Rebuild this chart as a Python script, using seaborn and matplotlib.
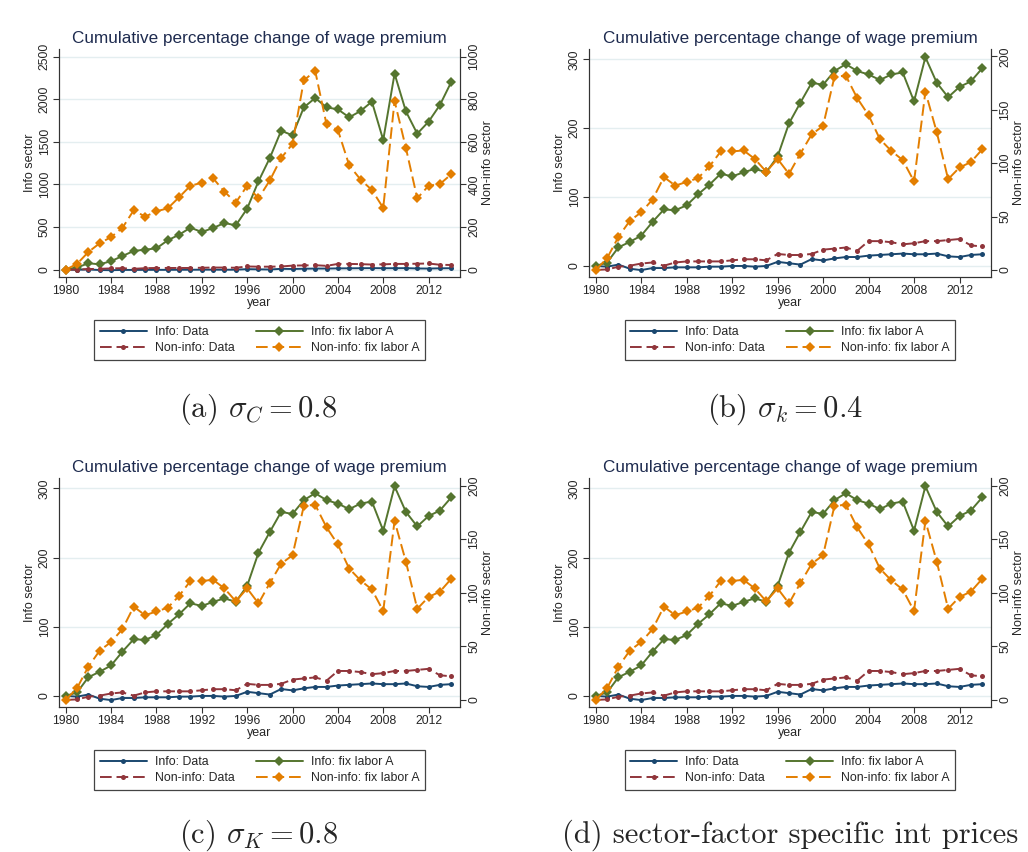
import matplotlib

matplotlib.use("Agg")
import matplotlib.pyplot as plt
import seaborn as sns
from matplotlib.lines import Line2D

# ---- data ----
years = list(range(1980, 2015))

info_data = [0, -1, 2, -4, -6, -3, -3, -2, -2, -2,
             -1, -1, 0, 0, -1, 0, 6, 4, 2, 10,
             8, 11, 13, 13, 15, 16, 17, 18, 17, 17,
             18, 14, 13, 16, 17]
noninfo_data = [0, 0.5, 3, 4, 6, 7, 4, 7, 8, 8,
                8, 8, 9, 10, 10, 9, 15, 14, 14, 15,
                19, 20, 21, 18, 27, 27, 26, 24, 25, 27,
                27, 28, 29, 23, 22]

# panel (a): sigma_C = 0.8
info_fix_a = [0, 25, 75, 63, 100, 160, 220, 235, 250, 345,
              410, 493, 442, 489, 548, 520, 716, 1037, 1311, 1631,
              1577, 1905, 2015, 1905, 1882, 1788, 1862, 1972, 1522, 2300,
              1858, 1596, 1737, 1933, 2203]
noninfo_fix_a = [0, 27, 83, 124, 153, 196, 279, 249, 274, 288,
                 340, 394, 408, 429, 366, 315, 394, 335, 419, 524,
                 590, 889, 933, 682, 656, 490, 423, 374, 290, 792,
                 571, 335, 394, 402, 448]

# panels (b), (c), (d)
info_fix = [0, 5, 27, 35, 44, 64, 82, 81, 88, 104,
            118, 134, 130, 136, 141, 136, 159, 207, 237, 266,
            263, 283, 293, 283, 278, 270, 278, 281, 239, 303,
            266, 245, 260, 268, 287]
noninfo_fix = [0, 11, 31, 46, 54, 66, 87, 79, 82.5, 86,
               97, 111, 111, 112, 104, 92, 104, 90, 109, 127,
               135, 181, 182, 161, 145, 122.5, 111.5, 103, 83, 167,
               129, 85, 96, 101, 113]

left_ticks_a = [0, 500, 1000, 1500, 2000, 2500]
right_ticks_a = [0, 200, 400, 600, 800, 1000]
left_ticks = [0, 100, 200, 300]
right_ticks = [0, 50, 100, 150, 200]
year_ticks = [1980, 1984, 1988, 1992, 1996, 2000, 2004, 2008, 2012]

series_labels = ["Info: Data", "Non-info: Data", "Info: fix labor A", "Non-info: fix labor A"]
captions = [r"(a) $\sigma_C = 0.8$", r"(b) $\sigma_k = 0.4$",
            r"(c) $\sigma_K = 0.8$", "(d) sector-factor specific int prices"]
title = "Cumulative percentage change of wage premium"

NAVY, MAROON, GREEN, ORANGE = "#1a476f", "#90353b", "#55752f", "#e37e00"
DASH = (0, (6, 2.5))

sns.set_style("ticks")
plt.rcParams["font.family"] = ["Liberation Sans", "DejaVu Sans"]
plt.rcParams["mathtext.fontset"] = "cm"

W, H = 1028, 852
fig = plt.figure(figsize=(W / 100, H / 100), dpi=100)


def rect(left, top, right, bottom):
    return [left / W, 1 - bottom / H, (right - left) / W, (bottom - top) / H]


def style_axis(ax):
    ax.tick_params(axis="both", direction="out", length=4, width=0.8, color="#333333",
                   labelsize=8.7, pad=2)
    for s in ax.spines.values():
        s.set_color("#333333")
        s.set_linewidth(0.8)
    ax.spines["top"].set_visible(False)


def draw_panel(box, ifix, nfix, lticks, rticks, llim, rlim, caption, cap_xy):
    ax = fig.add_axes(rect(*box))
    ax2 = ax.twinx()
    mk = dict(markeredgewidth=0, errorbar=None, legend=False)
    sns.lineplot(x=years, y=info_data, ax=ax, color=NAVY, lw=1.4, marker="o",
                 markersize=3.6, markeredgecolor=NAVY, **mk)
    sns.lineplot(x=years, y=ifix, ax=ax, color=GREEN, lw=1.4, marker="D",
                 markersize=4.6, markeredgecolor=GREEN, **mk)
    sns.lineplot(x=years, y=noninfo_data, ax=ax2, color=MAROON, lw=1.4, marker="o",
                 markersize=3.6, markeredgecolor=MAROON, linestyle=DASH, **mk)
    sns.lineplot(x=years, y=nfix, ax=ax2, color=ORANGE, lw=1.4, marker="D",
                 markersize=4.6, markeredgecolor=ORANGE, linestyle=DASH, **mk)

    ax.set_xlim(1979.41, 2014.77)
    ax.set_xticks(year_ticks)
    ax.set_ylim(*llim)
    ax.set_yticks(lticks)
    ax2.set_ylim(*rlim)
    ax2.set_yticks(rticks)
    ax.grid(axis="y", color="#e4eef0", lw=1)
    ax.grid(axis="x", visible=False)
    for a in (ax, ax2):
        style_axis(a)
        a.tick_params(axis="y", labelrotation=90)
    for lab in ax2.get_yticklabels():
        lab.set_va("center")
    for lab in ax.get_yticklabels():
        lab.set_va("center")

    ax.set_xlabel("year", fontsize=9, labelpad=0)
    ax.set_ylabel("Info sector", fontsize=9, labelpad=2)
    ax2.set_ylabel("Non-info sector", fontsize=9, labelpad=1)
    ax.set_title(title, fontsize=12.3, color="#1e2b4f", pad=4)

    handles = [
        Line2D([], [], color=NAVY, lw=1.4, marker="o", ms=3.6, mew=0),
        Line2D([], [], color=MAROON, lw=1.4, marker="o", ms=3.6, mew=0, linestyle=DASH),
        Line2D([], [], color=GREEN, lw=1.4, marker="D", ms=4.6, mew=0),
        Line2D([], [], color=ORANGE, lw=1.4, marker="D", ms=4.6, mew=0, linestyle=DASH),
    ]
    cx = (box[0] + box[2]) / 2
    ly = box[3] + 63
    leg = fig.legend(handles, series_labels, ncol=2, loc="center",
                     bbox_to_anchor=(cx / W, 1 - ly / H), fontsize=8.9,
                     handlelength=3.8, handletextpad=0.65, columnspacing=1.7,
                     labelspacing=0.35, borderpad=0.45, fancybox=False,
                     framealpha=1, edgecolor="#444444")
    leg.get_frame().set_linewidth(0.9)

    fig.text(cap_xy[0] / W, 1 - cap_xy[1] / H, caption, family="cmr10",
             fontsize=22, ha="center", va="baseline")


draw_panel((59, 49, 460, 277), info_fix_a, noninfo_fix_a, left_ticks_a, right_ticks_a,
           (-86, 2590), (-34.4, 1036), captions[0], (258, 417))
draw_panel((589, 49, 991, 277), info_fix, noninfo_fix, left_ticks, right_ticks,
           (-16, 315), (-6.6, 207), captions[1], (785, 417))
draw_panel((59, 478, 460, 707), info_fix, noninfo_fix, left_ticks, right_ticks,
           (-16, 315), (-6.6, 207), captions[2], (259, 843))
draw_panel((589, 478, 991, 707), info_fix, noninfo_fix, left_ticks, right_ticks,
           (-16, 315), (-6.6, 207), captions[3], (790, 843))

fig.savefig("out.png", dpi=100)
